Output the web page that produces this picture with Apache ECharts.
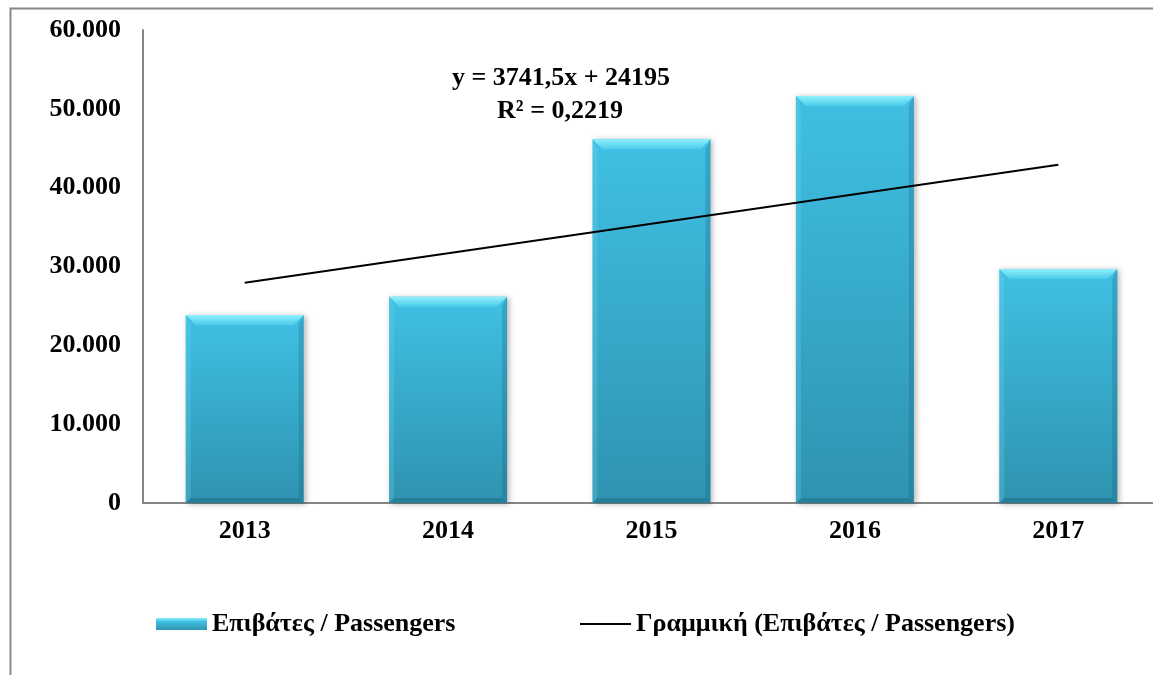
<!DOCTYPE html>
<html>
<head>
<meta charset="utf-8">
<script src="https://cdn.jsdelivr.net/npm/echarts@6/dist/echarts.min.js"></script>
<style>
  html, body { margin: 0; padding: 0; background: #ffffff; overflow: hidden; }
  #chart { width: 1170px; height: 675px; }
</style>
</head>
<body>
<div id="chart"></div>
<script>
// ---- data ----
const categories = ['2013', '2014', '2015', '2016', '2017'];
const passengers = [23850, 26170, 46130, 51620, 29690];
const trendValues = [27936.5, 31678, 35419.5, 39161, 42902.5];
const yTicks = [0, 10000, 20000, 30000, 40000, 50000, 60000];
const seriesName = 'Επιβάτες / Passengers';
const trendName = 'Γραμμική (Επιβάτες / Passengers)';
const equationLines = ['y = 3741,5x + 24195', 'R² = 0,2219'];

const FONT = '"Liberation Serif", "DejaVu Serif", serif';

function fmt(v) {
  return String(v).replace(/\B(?=(\d{3})+(?!\d))/g, '.');
}

const faceGrad = new echarts.graphic.LinearGradient(0, 0, 0, 1, [
  { offset: 0, color: '#40c0e4' },
  { offset: 1, color: '#2e93b0' }
]);

function renderBar(params, api) {
  const top = api.coord([api.value(0), api.value(1)]);
  const base = api.coord([api.value(0), 0]);
  const w = api.size([1, 0])[0] * 0.58;
  const l = top[0] - w / 2, r = top[0] + w / 2;
  const t = top[1], b = base[1];
  const bv = Math.min(10, (b - t) / 2);
  const sv = 5;
  return {
    type: 'group',
    children: [
      { type: 'rect', shape: { x: l, y: t, width: w, height: b - t },
        style: { fill: faceGrad, shadowBlur: 6, shadowColor: 'rgba(0,0,0,0.3)', shadowOffsetX: 2, shadowOffsetY: 1 } },
      { type: 'polygon', shape: { points: [[l, t], [l + sv, t + bv], [l + sv, b - sv], [l, b]] },
        style: { fill: 'rgba(110,215,240,0.25)' } },
      { type: 'polygon', shape: { points: [[r, t], [r - sv, t + bv], [r - sv, b - sv], [r, b]] },
        style: { fill: 'rgba(20,90,115,0.25)' } },
      { type: 'polygon', shape: { points: [[l, b], [l + sv, b - sv], [r - sv, b - sv], [r, b]] },
        style: { fill: 'rgba(20,90,115,0.35)' } },
      { type: 'polygon', shape: { points: [[l, t], [r, t], [r - bv, t + bv], [l + bv, t + bv]] },
        style: { fill: new echarts.graphic.LinearGradient(0, 0, 0, 1, [
          { offset: 0, color: '#8ff0fc' }, { offset: 1, color: '#4ccbea' }]) } }
    ]
  };
}

const chart = echarts.init(document.getElementById('chart'), null, { renderer: 'canvas' });
chart.setOption({
  backgroundColor: '#ffffff',
  animation: false,
  textStyle: { fontFamily: FONT },
  grid: { left: 143, right: 10, top: 30, bottom: 172, containLabel: false },
  xAxis: {
    type: 'category',
    data: categories,
    axisLine: { lineStyle: { color: '#868686', width: 2 } },
    axisTick: { show: false },
    axisLabel: { color: '#000', fontFamily: FONT, fontWeight: 'bold', fontSize: 26, margin: 15 },
    splitLine: { show: false }
  },
  yAxis: {
    type: 'value',
    min: yTicks[0],
    max: yTicks[yTicks.length - 1],
    interval: yTicks[1] - yTicks[0],
    axisLine: { show: true, lineStyle: { color: '#868686', width: 2 } },
    axisTick: { show: false },
    splitLine: { show: false },
    axisLabel: { color: '#000', fontFamily: FONT, fontWeight: 'bold', fontSize: 26, margin: 22,
      formatter: v => fmt(v) }
  },
  legend: [
    {
      data: [{ name: seriesName, icon: 'rect' }],
      left: 151, top: 606,
      itemWidth: 51, itemHeight: 12, itemGap: 6,
      textStyle: { color: '#000', fontFamily: FONT, fontWeight: 'bold', fontSize: 26 }
    },
    {
      data: [{ name: trendName, icon: 'rect', itemStyle: { color: '#000' } }],
      left: 575, top: 606,
      itemWidth: 51, itemHeight: 2, itemGap: 6,
      textStyle: { color: '#000', fontFamily: FONT, fontWeight: 'bold', fontSize: 26 }
    }
  ],
  series: [
    {
      name: seriesName,
      type: 'custom',
      renderItem: renderBar,
      encode: { x: 0, y: 1 },
      itemStyle: { color: new echarts.graphic.LinearGradient(0, 0, 0, 1, [
        { offset: 0, color: '#8ff0fc' }, { offset: 0.3, color: '#40c0e4' }, { offset: 1, color: '#2e93b0' }]) },
      data: passengers.map((v, i) => [i, v]),
      z: 2
    },
    {
      name: trendName,
      type: 'line',
      data: trendValues,
      symbol: 'none',
      showSymbol: false,
      lineStyle: { color: '#000', width: 2 },
      itemStyle: { color: '#000' },
      z: 5
    }
  ],
  graphic: [
    { type: 'rect', left: 8, top: 6, shape: { width: 1200, height: 720 },
      style: { fill: 'none', stroke: '#888888', lineWidth: 2 }, z: -1, silent: true },
    { type: 'text', x: 561, y: 78, style: { text: equationLines[0], fontFamily: FONT, fontWeight: 'bold', fontSize: 26,
      fill: '#000', align: 'center', verticalAlign: 'middle' }, z: 10 },
    { type: 'text', x: 560, y: 111, style: { text: equationLines[1], fontFamily: FONT, fontWeight: 'bold', fontSize: 26,
      fill: '#000', align: 'center', verticalAlign: 'middle' }, z: 10 }
  ]
});
</script>
</body>
</html>
